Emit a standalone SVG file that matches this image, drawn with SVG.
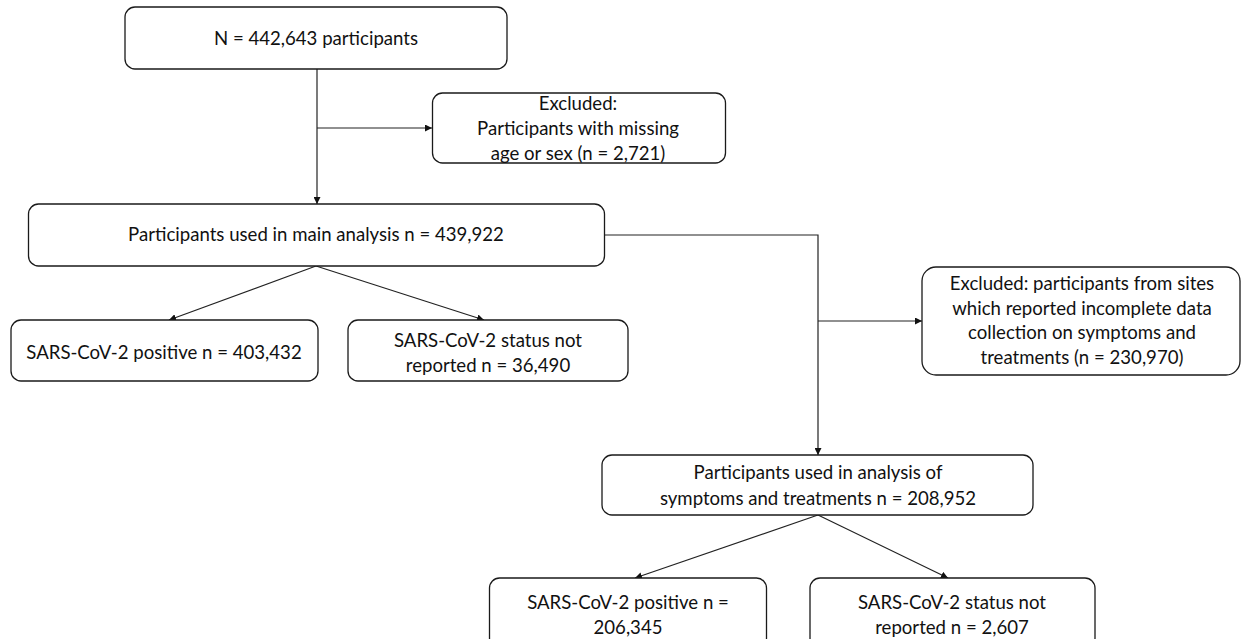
<svg xmlns="http://www.w3.org/2000/svg" width="1241" height="639" viewBox="0 0 1241 639">
<style>
.box{fill:#fff;stroke:#1a1a1a;stroke-width:1.3}
.t{font-family:Lato,"Open Sans","Liberation Sans",sans-serif;font-size:18.6px;fill:#111;text-anchor:middle}
.c{fill:none;stroke:#222;stroke-width:1.2}
</style>
<defs>
<marker id="ah" viewBox="0 0 10 10" refX="10" refY="5" markerWidth="7" markerHeight="7" markerUnits="userSpaceOnUse" orient="auto">
<path d="M0,0 L10,5 L0,10 z" fill="#111"/>
</marker>
</defs>
<rect width="1241" height="639" fill="#fff"/>
<g id="connectors">
<path class="c" d="M317,69 V204" marker-end="url(#ah)"/>
<path class="c" d="M317,128 H432" marker-end="url(#ah)"/>
<path class="c" d="M316,266 L169,320" marker-end="url(#ah)"/>
<path class="c" d="M316,266 L484,320" marker-end="url(#ah)"/>
<path class="c" d="M605,235 H818 V455" marker-end="url(#ah)"/>
<path class="c" d="M818,321 H922" marker-end="url(#ah)"/>
<path class="c" d="M818,515 L635,578" marker-end="url(#ah)"/>
<path class="c" d="M818,515 L948,578" marker-end="url(#ah)"/>
</g>
<g id="n_total">
<rect class="box" x="125" y="7" width="382" height="62" rx="10"/>
<text class="t" x="316" y="45">N = 442,643 participants</text>
</g>
<g id="n_excl1">
<rect class="box" x="432.5" y="93" width="293" height="70" rx="10"/>
<text class="t" x="578" y="110">Excluded:</text>
<text class="t" x="578" y="135">Participants with missing</text>
<text class="t" x="578" y="160">age or sex (n = 2,721)</text>
</g>
<g id="n_main">
<rect class="box" x="28.5" y="204" width="576" height="62" rx="10"/>
<text class="t" x="316" y="241">Participants used in main analysis n = 439,922</text>
</g>
<g id="n_pos1">
<rect class="box" x="11" y="320" width="307" height="61" rx="10"/>
<text class="t" x="164" y="359">SARS-CoV-2 positive n = 403,432</text>
</g>
<g id="n_nr1">
<rect class="box" x="348" y="320" width="280" height="61" rx="10"/>
<text class="t" x="488" y="347">SARS-CoV-2 status not</text>
<text class="t" x="488" y="372">reported n = 36,490</text>
</g>
<g id="n_excl2">
<rect class="box" x="922" y="267" width="318" height="108" rx="14"/>
<text class="t" x="1082" y="290">Excluded: participants from sites</text>
<text class="t" x="1082" y="315">which reported incomplete data</text>
<text class="t" x="1082" y="339">collection on symptoms and</text>
<text class="t" x="1082" y="364">treatments (n = 230,970)</text>
</g>
<g id="n_symp">
<rect class="box" x="602" y="455" width="431" height="60" rx="10"/>
<text class="t" x="818" y="479">Participants used in analysis of</text>
<text class="t" x="818" y="505">symptoms and treatments n = 208,952</text>
</g>
<g id="n_pos2">
<rect class="box" x="489.5" y="578" width="277" height="70" rx="10"/>
<text class="t" x="628" y="609">SARS-CoV-2 positive n =</text>
<text class="t" x="628" y="634">206,345</text>
</g>
<g id="n_nr2">
<rect class="box" x="810" y="578" width="285" height="70" rx="10"/>
<text class="t" x="952" y="609">SARS-CoV-2 status not</text>
<text class="t" x="952" y="634">reported n = 2,607</text>
</g>
</svg>
